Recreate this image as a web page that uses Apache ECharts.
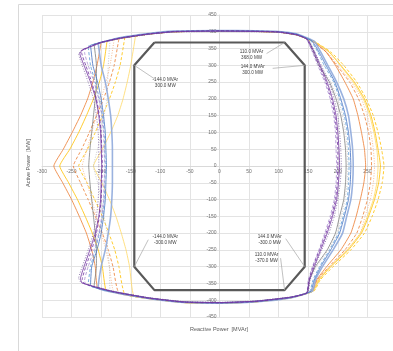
<!DOCTYPE html>
<html>
<head>
<meta charset="utf-8">
<script src="https://cdn.jsdelivr.net/npm/echarts@6/dist/echarts.min.js"></script>
<style>
  html, body { margin: 0; padding: 0; background: #ffffff; }
  #chart { width: 393px; height: 351px; }
</style>
</head>
<body>
<div id="chart"></div>
<script>
// Reactive power Q [MVAr] vs active power P [MW], one [Q, P] pair per point.
const purpleSolid = [[-232,346],[-200,368],[-167,381],[-120,393],[-78,400],[0,402],[60,401],[100,399],[130,391],[148,378],[160,340],[170,300],[182,250],[191,200],[197,150],[200,100],[202,50],[203,0],[201,-50],[198,-100],[191,-150],[182,-200],[171,-250],[160,-300],[152,-340],[148,-378],[120,-391],[60,-403],[0,-407],[-60,-405],[-120,-393],[-180,-374],[-232,-349],[-235,-336],[-229,-300],[-219,-250],[-210,-200],[-204,-150],[-201,-100],[-200,-50],[-199,0],[-200,50],[-201,100],[-204,150],[-209,200],[-218,250],[-229,300],[-236,335],[-232,346]];
const purpleDashed = [[-230,348],[-200,369],[-167,382],[-120,394],[-78,401],[0,403],[60,402],[100,400],[130,392],[147,379],[158,340],[168,300],[180,250],[189,200],[195,150],[198,100],[200,50],[200,0],[199,-50],[196,-100],[189,-150],[180,-200],[169,-250],[158,-300],[151,-340],[147,-379],[120,-392],[60,-404],[0,-408],[-60,-406],[-120,-394],[-180,-375],[-228,-351],[-232,-338],[-226,-300],[-216,-250],[-208,-200],[-203,-150],[-200,-100],[-199,-50],[-198,0],[-199,50],[-200,100],[-203,150],[-208,200],[-216,250],[-226,300],[-233,338],[-230,348]];
const purpleDotted = [[-234,344],[-200,367],[-167,380],[-120,392],[-78,399],[0,401],[60,400],[100,398],[130,390],[149,377],[161,340],[172,300],[185,250],[194,200],[200,150],[203,100],[205,50],[206,0],[204,-50],[200,-100],[194,-150],[185,-200],[173,-250],[161,-300],[153,-340],[149,-377],[120,-390],[60,-402],[0,-406],[-60,-404],[-120,-392],[-180,-373],[-234,-347],[-238,-334],[-232,-300],[-222,-250],[-213,-200],[-208,-150],[-205,-100],[-204,-50],[-204,0],[-204,50],[-205,100],[-208,150],[-213,200],[-222,250],[-232,300],[-238,333],[-234,344]];
const lilacDashed = [[-226,350],[-200,368],[-167,381],[-120,393],[-78,400],[0,402],[60,401],[100,399],[130,391],[147,378],[157,340],[166,300],[178,250],[187,200],[193,150],[196,100],[197,50],[198,0],[197,-50],[194,-100],[187,-150],[178,-200],[168,-250],[157,-300],[150,-340],[147,-378],[120,-391],[60,-403],[0,-407],[-60,-405],[-120,-393],[-180,-374],[-226,-352],[-228,-340],[-222,-300],[-212,-250],[-204,-200],[-199,-150],[-196,-100],[-195,-50],[-194,0],[-195,50],[-196,100],[-199,150],[-204,200],[-212,250],[-222,300],[-228,338],[-226,350]];
const blueSolid = [[-218,360],[-200,369],[-167,382],[-120,394],[-78,401],[0,403],[60,402],[100,400],[130,393],[156,373],[168,340],[180,300],[195,250],[205,200],[213,150],[218,100],[221,50],[222,0],[221,-50],[218,-100],[211,-150],[203,-200],[188,-250],[171,-300],[160,-340],[154,-374],[120,-392],[60,-404],[0,-408],[-60,-406],[-120,-394],[-180,-375],[-218,-356],[-216,-300],[-207,-250],[-200,-200],[-196,-150],[-193,-100],[-192,-50],[-191,0],[-192,50],[-193,100],[-196,150],[-200,200],[-206,250],[-214,300],[-218,360]];
const paleBlueSolid = [[-205,366],[-167,383],[-120,395],[-78,402],[0,404],[60,403],[100,401],[130,394],[160,372],[171,340],[183,300],[198,250],[210,200],[218,150],[222,100],[225,50],[226,0],[225,-50],[222,-100],[215,-150],[208,-200],[192,-250],[174,-300],[162,-340],[157,-373],[120,-393],[60,-405],[0,-409],[-60,-407],[-120,-395],[-180,-376],[-205,-364],[-200,-300],[-193,-250],[-188,-200],[-184,-150],[-182,-100],[-181,-50],[-181,0],[-181,50],[-182,100],[-184,150],[-188,200],[-193,250],[-200,300],[-205,366]];
const blueDashed = [[-222,357],[-200,368],[-167,381],[-120,393],[-78,400],[0,402],[60,401],[100,399],[130,392],[154,374],[166,340],[177,300],[193,250],[203,200],[211,150],[216,100],[218,50],[219,0],[218,-50],[216,-100],[209,-150],[201,-200],[186,-250],[169,-300],[158,-340],[152,-375],[120,-391],[60,-403],[0,-407],[-60,-405],[-120,-393],[-180,-374],[-222,-354],[-218,-300],[-210,-250],[-203,-200],[-198,-150],[-195,-100],[-194,-50],[-193,0],[-194,50],[-195,100],[-198,150],[-203,200],[-210,250],[-218,300],[-222,357]];
const greySolid = [[-212,363],[-200,368],[-167,381],[-120,393],[-78,400],[0,402],[60,401],[100,399],[130,391],[150,376],[159,340],[168,300],[186,250],[197,200],[205,150],[210,100],[213,50],[214,0],[213,-50],[210,-100],[203,-150],[196,-200],[182,-250],[162,-300],[152,-340],[148,-377],[120,-391],[60,-403],[0,-407],[-60,-405],[-120,-393],[-180,-374],[-212,-359],[-208,-300],[-208,-250],[-210,-200],[-213,-150],[-216,-100],[-219,-50],[-221,0],[-219,50],[-216,100],[-213,150],[-210,200],[-208,250],[-208,300],[-212,363]];
const greyDotted = [[-185,376],[-167,382],[-120,394],[-78,401],[0,403],[60,402],[100,400],[130,392],[151,376],[161,340],[170,300],[188,250],[200,200],[208,150],[213,100],[216,50],[217,0],[216,-50],[212,-100],[206,-150],[199,-200],[184,-250],[164,-300],[153,-340],[149,-377],[120,-392],[60,-404],[0,-408],[-60,-406],[-120,-394],[-180,-376],[-185,-373],[-186,-300],[-189,-250],[-190,-200],[-195,-150],[-200,-100],[-206,-50],[-213,0],[-206,50],[-200,100],[-195,150],[-190,200],[-189,250],[-188,300],[-185,376]];
const orangeSolid = [[-200,368],[-167,381],[-120,393],[-78,400],[0,402],[60,401],[100,399],[130,391],[157,372],[180,340],[196,300],[212,250],[226,200],[234,150],[240,100],[245,50],[247,0],[244,-50],[238,-100],[231,-150],[222,-200],[205,-250],[181,-300],[164,-340],[156,-373],[120,-393],[60,-405],[0,-409],[-60,-407],[-120,-395],[-180,-376],[-206,-362],[-210,-300],[-216,-250],[-225,-200],[-237,-150],[-250,-100],[-265,-50],[-280,0],[-264,50],[-249,100],[-235,150],[-223,200],[-214,250],[-207,300],[-200,368]];
const goldSolid = [[-190,373],[-167,381],[-120,393],[-78,400],[0,402],[60,401],[100,399],[130,391],[160,371],[185,340],[205,300],[228,250],[245,200],[256,150],[263,100],[268,50],[272,0],[269,-50],[262,-100],[252,-150],[240,-200],[218,-250],[188,-300],[168,-340],[158,-373],[120,-393],[60,-405],[0,-409],[-60,-407],[-120,-395],[-180,-376],[-192,-370],[-198,-300],[-205,-250],[-215,-200],[-227,-150],[-240,-100],[-255,-50],[-270,0],[-253,50],[-238,100],[-225,150],[-213,200],[-203,250],[-196,300],[-190,373]];
const orangeDashed = [[-170,379],[-120,393],[-78,400],[0,402],[60,401],[100,399],[130,391],[158,371],[180,340],[198,300],[220,250],[235,200],[245,150],[252,100],[256,50],[257,0],[255,-50],[250,-100],[242,-150],[232,-200],[212,-250],[185,-300],[165,-340],[157,-374],[120,-392],[60,-404],[0,-408],[-60,-406],[-120,-394],[-170,-378],[-180,-300],[-188,-250],[-198,-200],[-210,-150],[-222,-100],[-235,-50],[-247,0],[-233,50],[-220,100],[-208,150],[-196,200],[-186,250],[-178,300],[-170,379]];
const goldDashed = [[-160,383],[-120,393],[-78,400],[0,402],[60,401],[100,399],[130,391],[162,369],[188,340],[210,300],[232,250],[248,200],[260,150],[268,100],[274,50],[278,0],[275,-50],[268,-100],[258,-150],[245,-200],[222,-250],[192,-300],[170,-340],[160,-372],[120,-393],[60,-405],[0,-409],[-60,-407],[-120,-395],[-160,-382],[-170,-300],[-177,-250],[-187,-200],[-198,-150],[-211,-100],[-224,-50],[-238,0],[-223,50],[-210,100],[-198,150],[-186,200],[-176,250],[-168,300],[-160,383]];
const peachDotted = [[-178,377],[-167,381],[-120,393],[-78,400],[0,402],[60,401],[100,399],[130,391],[159,371],[182,340],[200,300],[223,250],[240,200],[250,150],[256,100],[260,50],[262,0],[260,-50],[255,-100],[246,-150],[238,-200],[215,-250],[186,-300],[166,-340],[157,-373],[120,-392],[60,-404],[0,-408],[-60,-406],[-120,-394],[-178,-376],[-186,-300],[-192,-250],[-200,-200],[-208,-150],[-216,-100],[-224,-50],[-232,0],[-224,50],[-216,100],[-208,150],[-200,200],[-192,250],[-185,300],[-178,377]];
const paleGoldSolid = [[-142,387],[-120,393],[-78,400],[0,402],[60,401],[100,399],[130,391],[161,370],[186,340],[204,300],[226,250],[243,200],[254,150],[261,100],[266,50],[268,0],[266,-50],[260,-100],[250,-150],[238,-200],[216,-250],[187,-300],[167,-340],[158,-373],[120,-393],[60,-405],[0,-409],[-60,-407],[-120,-395],[-145,-386],[-152,-300],[-158,-250],[-166,-200],[-175,-150],[-186,-100],[-199,-50],[-213,0],[-198,50],[-184,100],[-172,150],[-163,200],[-156,250],[-150,300],[-142,387]];

// Operating envelope and its labelled corners
const envelope = [[-110,368],[110,368],[144,300],[144,-300],[110,-370],[-110,-370],[-144,-300],[-144,300],[-110,368]];
const cornerQ = [-144, 110, 144, -144, 144, 110];
const cornerP = [300, 368, 300, -300, -300, -370];

// Axis ranges
const qRange = [-300, 300, 50];
const pRange = [-450, 450, 50];

// Line styles for each curve
const curves = [
  { data: orangeSolid,  color: '#ED7D31', type: 'solid',  width: 0.9 },
  { data: goldSolid,    color: '#FFC000', type: 'solid',  width: 0.9 },
  { data: orangeDashed, color: '#ED7D31', type: [3, 2],   width: 0.9 },
  { data: goldDashed,   color: '#FFC000', type: [3, 2],   width: 0.9 },
  { data: peachDotted,  color: '#F4B183', type: [1, 1.5], width: 0.9 },
  { data: paleGoldSolid,color: '#FFD966', type: 'solid',  width: 0.9 },
  { data: greySolid,    color: '#7F7F7F', type: 'solid',  width: 0.9 },
  { data: greyDotted,   color: '#BFBFBF', type: [1, 1.5], width: 0.9 },
  { data: paleBlueSolid,color: '#8FAADC', type: 'solid',  width: 1.6 },
  { data: blueSolid,    color: '#4472C4', type: 'solid',  width: 0.9 },
  { data: blueDashed,   color: '#5B9BD5', type: [3, 2],   width: 0.9 },
  { data: lilacDashed,  color: '#A88BD0', type: [3, 2],   width: 0.9 },
  { data: purpleDotted, color: '#8064A2', type: [1, 1.5], width: 0.9 },
  { data: purpleDashed, color: '#7030A0', type: [3, 2],   width: 0.9 },
  { data: purpleSolid,  color: '#7030A0', type: 'solid',  width: 0.9 }
];

// Pixel offsets of each corner note: text centre and leader-line end
const noteOffsets = [
  { tx: 31, ty: 17, lx: 21, ly: 14 },
  { tx: -33, ty: 12, lx: -18, ly: 11 },
  { tx: -52, ty: 4, lx: -32, ly: 3 },
  { tx: 31, ty: -27, lx: 14, ly: -27 },
  { tx: -35, ty: -27, lx: -19, ly: -28 },
  { tx: -18, ty: -32, lx: -4, ly: -32 }
];

const FONT = '"Liberation Sans", Arial, sans-serif';
const GRID = { left: 42, top: 15, width: 355, height: 302 };
const chart = echarts.init(document.getElementById('chart'), null, { renderer: 'canvas' });

const series = curves.map((c) => ({
  type: 'line',
  data: c.data,
  showSymbol: false,
  symbol: 'none',
  smooth: 0.15,
  z: 2,
  lineStyle: { color: c.color, type: c.type, width: c.width, opacity: 0.9 },
  silent: true
}));
series.push({
  type: 'line',
  data: envelope,
  showSymbol: false,
  symbol: 'none',
  z: 3,
  lineStyle: { color: '#595959', width: 2.2 },
  silent: true
});

const axisCommon = {
  type: 'value',
  axisLine: { show: true, onZero: false, lineStyle: { color: '#D9D9D9', width: 1 } },
  axisTick: { show: false },
  splitLine: { show: true, lineStyle: { color: '#E3E3E3', width: 1 } },
  axisLabel: { fontSize: 5, color: '#707070', fontFamily: FONT, margin: 3 }
};

// Axes cross at the origin: shift each axis line from the grid edge to zero
const qZeroShift = GRID.width * (0 - qRange[0]) / (qRange[1] - qRange[0]);
const pZeroShift = GRID.height * (pRange[1] - 0) / (pRange[1] - pRange[0]);

chart.setOption({
  animation: false,
  backgroundColor: '#ffffff',
  grid: Object.assign({ containLabel: false, outerBoundsMode: 'none' }, GRID),
  xAxis: Object.assign({}, axisCommon, {
    position: 'bottom',
    offset: -(GRID.height - pZeroShift),
    min: qRange[0], max: qRange[1], interval: qRange[2]
  }),
  yAxis: Object.assign({}, axisCommon, {
    position: 'left',
    offset: -qZeroShift,
    min: pRange[0], max: pRange[1], interval: pRange[2]
  }),
  series: series
});

// Frame, axis titles and corner notes
const graphics = [
  {
    type: 'rect', silent: true, z: 0,
    shape: { x: 18.5, y: 4.5, width: 420, height: 400 },
    style: { fill: 'none', stroke: '#D9D9D9', lineWidth: 1 }
  },
  {
    type: 'text', silent: true, x: 28, y: 163, rotation: Math.PI / 2,
    style: { text: 'Active Power  [MW]', fill: '#595959', font: '5.5px ' + FONT, align: 'center', verticalAlign: 'middle' }
  },
  {
    type: 'text', silent: true, x: 219, y: 329,
    style: { text: 'Reactive Power  [MVAr]', fill: '#595959', font: '5.5px ' + FONT, align: 'center', verticalAlign: 'middle' }
  }
];

cornerQ.forEach((q, i) => {
  const p = cornerP[i];
  const px = chart.convertToPixel({ gridIndex: 0 }, [q, p]);
  const o = noteOffsets[i];
  graphics.push({
    type: 'line', silent: true, z: 5,
    shape: { x1: px[0], y1: px[1], x2: px[0] + o.lx, y2: px[1] + o.ly },
    style: { stroke: '#A6A6A6', lineWidth: 0.7 }
  });
  graphics.push({
    type: 'text', silent: true, z: 5,
    x: px[0] + o.tx, y: px[1] + o.ty,
    style: {
      text: q.toFixed(1) + ' MVAr\n' + p.toFixed(1) + ' MW',
      fill: '#404040', font: '4.6px ' + FONT,
      align: 'center', verticalAlign: 'middle', lineHeight: 6
    }
  });
});

chart.setOption({ graphic: graphics });
</script>
</body>
</html>
